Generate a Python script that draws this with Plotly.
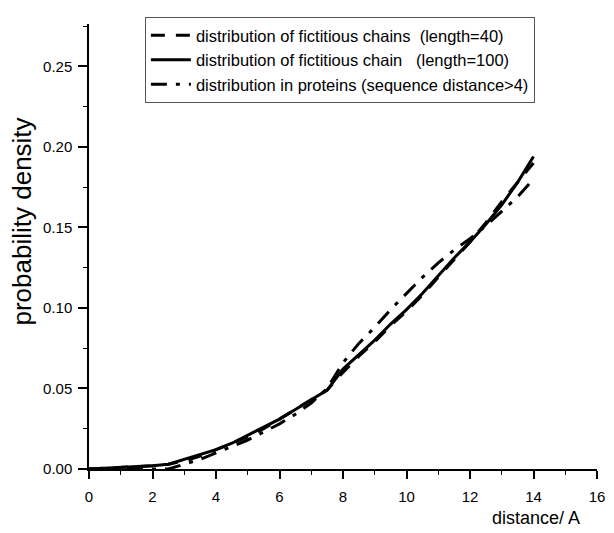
import plotly.graph_objects as go

# distance values (Angstrom)
distance = [0, 1, 2, 2.5, 3, 3.5, 4, 4.5, 5, 5.5, 6, 6.5, 7, 7.5, 8, 8.5, 9, 9.5,
            10, 10.5, 11, 11.5, 12, 12.5, 13, 13.5, 14]

# fictitious chains, length=40 (dashed)
chain40 = [0, 0.001, 0.002, 0.003, 0.005, 0.008, 0.012, 0.016, 0.020, 0.025, 0.031,
           0.037, 0.043, 0.049, 0.060, 0.070, 0.079, 0.089, 0.098, 0.108, 0.119,
           0.130, 0.141, 0.153, 0.166, 0.178, 0.190]

# fictitious chain, length=100 (solid)
chain100 = [0, 0.001, 0.002, 0.003, 0.006, 0.009, 0.012, 0.016, 0.021, 0.026, 0.031,
            0.037, 0.043, 0.049, 0.062, 0.071, 0.080, 0.090, 0.099, 0.109, 0.120,
            0.131, 0.141, 0.152, 0.164, 0.178, 0.194]

# proteins, sequence distance > 4 (dash-dot)
proteins = [0, 0, 0, 0, 0.003, 0.006, 0.010, 0.014, 0.018, 0.023, 0.028, 0.034,
            0.041, 0.050, 0.066, 0.078, 0.088, 0.099, 0.109, 0.119, 0.128, 0.136,
            0.143, 0.151, 0.160, 0.169, 0.180]

names = ["distribution of fictitious chains  (length=40)",
         "distribution of fictitious chain   (length=100)",
         "distribution in proteins (sequence distance>4)"]

x_ticks = [0, 2, 4, 6, 8, 10, 12, 14, 16]
y_ticks = [0.00, 0.05, 0.10, 0.15, 0.20, 0.25]

FONT = "Liberation Sans, Arial, sans-serif"

fig = go.Figure()
fig.add_trace(go.Scatter(x=distance, y=chain40, mode="lines", name=names[0],
                         line=dict(color="black", width=3, dash="14px,11px")))
fig.add_trace(go.Scatter(x=distance, y=chain100, mode="lines", name=names[1],
                         line=dict(color="black", width=3)))
fig.add_trace(go.Scatter(x=distance, y=proteins, mode="lines", name=names[2],
                         line=dict(color="black", width=3, dash="16px,9px,4px,9px")))

# the page body has an 8px margin, so the figure is sized to fit the window
fig.update_layout(
    width=606, height=525,
    margin=dict(l=81, r=9, t=10, b=64),
    paper_bgcolor="white", plot_bgcolor="white",
    font=dict(family=FONT, size=15, color="black"),
    showlegend=True,
    legend=dict(x=0.11, y=1.0155, xanchor="left", yanchor="top",
                bordercolor="#555", borderwidth=1, bgcolor="white",
                font=dict(family=FONT, size=16.5, color="black"),
                tracegroupgap=0, itemwidth=40),
)

fig.update_xaxes(range=[0, 16], tickvals=x_ticks, ticktext=[str(v) for v in x_ticks],
                 showgrid=False, zeroline=False, showline=True, linecolor="black",
                 linewidth=1.5, ticks="outside", ticklen=8, tickwidth=1.5,
                 tickcolor="black", tickfont=dict(size=15), ticklabelstandoff=5,
                 minor=dict(dtick=1, ticks="outside", ticklen=4, tickwidth=1.2,
                            tickcolor="black", showgrid=False))
fig.update_yaxes(range=[0, 0.2763], tickvals=y_ticks, ticktext=[f"{v:.2f}" for v in y_ticks],
                 showgrid=False, zeroline=False, showline=True, linecolor="black",
                 linewidth=1.5, ticks="outside", ticklen=9, tickwidth=1.5,
                 tickcolor="black", tickfont=dict(size=15), ticklabelstandoff=3,
                 minor=dict(dtick=0.025, ticks="outside", ticklen=4, tickwidth=1.2,
                            tickcolor="black", showgrid=False))

fig.add_annotation(text="probability density", xref="paper", yref="paper",
                   x=-0.132, y=0.556, xanchor="center", yanchor="middle",
                   textangle=-90, showarrow=False,
                   font=dict(family=FONT, size=26, color="black"))
fig.add_annotation(text="distance/ A", xref="paper", yref="paper", x=0.971, y=-0.111,
                   xanchor="right", yanchor="middle", showarrow=False,
                   font=dict(family=FONT, size=18, color="black"))

fig.write_html("out.html")
